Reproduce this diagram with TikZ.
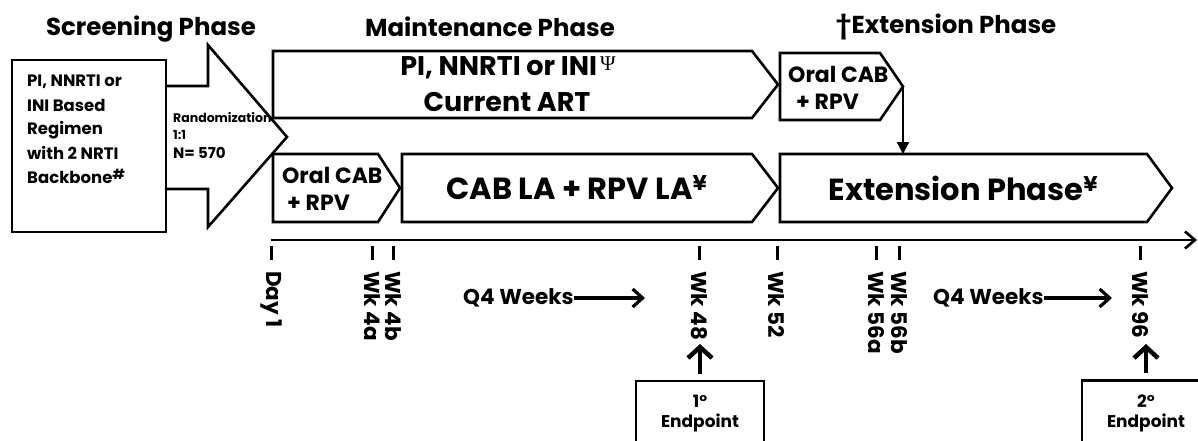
\documentclass[tikz,border=0pt]{standalone}
\usepackage{fontspec}
\setmainfont{Poppins}
\newfontfamily\psifont{Liberation Serif}
\usetikzlibrary{arrows.meta,calc}
\newcommand{\pentbox}[2]{\draw[boxline] (#1.north west) -- (#1.north east) -- ([xshift=#2pt]#1.east) -- (#1.south east) -- (#1.south west) -- cycle;}
\begin{document}
\begin{tikzpicture}[x=1pt,y=-1pt,
  boxline/.style={line width=2.6pt, line join=miter},
  rbox/.style={inner sep=0pt, outer sep=0pt, minimum height=67pt, anchor=north west, align=center},
  ttl/.style={font=\bfseries\fontsize{24.5}{28}\selectfont, inner sep=0pt},
  big/.style={font=\bfseries\fontsize{30.5}{36}\selectfont},
  mid/.style={font=\bfseries\fontsize{27}{30}\selectfont, inner sep=0pt, anchor=base},
  oral/.style={font=\bfseries\fontsize{22}{24}\selectfont, inner sep=0pt, anchor=base west},
  scr/.style={font=\bfseries\fontsize{16.5}{20}\selectfont, inner sep=0pt, anchor=base west},
  tickmark/.style={line width=3pt},
  ticklab/.style={rotate=-90, anchor=west, inner sep=0pt, font=\bfseries\fontsize{21.5}{24}\selectfont},
  q4/.style={font=\bfseries\fontsize{21.5}{24}\selectfont, inner sep=0pt, anchor=west},
  barb/.style={line width=3.2pt, -{Straight Barb[length=10pt,width=18pt]}},
  uparrow/.style={line width=4.5pt, -{Straight Barb[length=11pt,width=24pt]}, shorten <=6pt},
  endbox/.style={draw, line width=2.2pt, minimum width=128pt, minimum height=65pt, align=center, font=\bfseries\fontsize{17}{20}\selectfont, inner sep=0pt},
]
\useasboundingbox (0,0) rectangle (1198,441);

% titles
\node[ttl] (tscr) at (151,29) {Screening Phase};
\node[ttl] (tmain) at (490,27) {Maintenance Phase};
\node[ttl] (text) at (946,27) {†Extension Phase};

% screening box
\node[draw, boxline, minimum width=154pt, minimum height=172pt, anchor=north west, inner sep=0pt, outer sep=0pt] (screen) at (12,60) {};
\node[scr] (s1) at (27,87) {PI, NNRTI or};
\node[scr] (s2) at (27,111) {INI Based};
\node[scr] (s3) at (27,135) {Regimen};
\node[scr] (s4) at (27,159) {with 2 NRTI};
\node[scr] (s5) at (27,183) {Backbone\raisebox{4pt}{\fontsize{14}{14}\selectfont\#}};

% randomization arrow
\draw[boxline] (166,86) -- (208,86) -- (208,45) -- (287,137) -- (208,227) -- (208,189) -- (166,189);
\node[anchor=west, inner sep=0pt, font=\bfseries\fontsize{12.5}{14}\selectfont] (rand) at (173,118) {Randomization};
\node[anchor=west, inner sep=0pt, font=\bfseries\fontsize{12.5}{14}\selectfont] (ratio) at (173,135) {1:1};
\node[anchor=west, inner sep=0pt, font=\bfseries\fontsize{15}{16}\selectfont] (nn) at (173,153) {N= 570};

% top row
\node[rbox, minimum width=479pt] (cur) at (273,51) {};
\pentbox{cur}{26}
\node[mid] (curl1) at (508,76) {PI, NNRTI or INI\hspace{3pt}\raisebox{5pt}{\psifont\mdseries\fontsize{21}{21}\selectfont Ψ}};
\node[mid] (curl2) at (507,111) {Current ART};
\node[rbox, minimum width=100pt] (octop) at (780,53) {};
\pentbox{octop}{23}
\node[oral] (octop1) at (788,83) {Oral CAB};
\node[oral] (octop2) at (796,110) {+ RPV};

% bottom row
\node[rbox, minimum width=105pt, minimum height=68pt] (oclow) at (273,154) {};
\pentbox{oclow}{22}
\node[oral] (oclow1) at (282,183) {Oral CAB};
\node[oral] (oclow2) at (287,210) {+ RPV};
\node[rbox, big, minimum width=350pt, minimum height=68pt] (cabla) at (402,154) {CAB LA + RPV LA\textsuperscript{¥}};
\pentbox{cabla}{26}
\node[rbox, big, minimum width=367pt, minimum height=68pt] (ext) at (780,154) {Extension Phase\textsuperscript{¥}};
\pentbox{ext}{25}

% connector oral -> extension
\coordinate (octip) at ([xshift=23pt]octop.east);
\draw[line width=2.2pt, -{Triangle[length=12pt,width=12pt]}] (octip) -- (octip |- ext.north);

% timeline
\coordinate (t0) at (271,240);
\coordinate (tend) at (1197,240);
\draw[boxline, -{Straight Barb[length=10pt,width=17pt]}] (t0) -- (tend);

\foreach \x/\lab/\n in {271/Day 1/d1, 372/Wk 4a/w4a, 393/Wk 4b/w4b, 699/Wk 48/w48, 777/Wk 52/w52, 876/Wk 56a/w56a, 899/Wk 56b/w56b, 1140/Wk 96/w96}{
  \draw[tickmark] (\x,246) -- (\x,260);
  \node[ticklab] (\n) at (\x,271) {\lab};
}

% Q4 weeks
\node[q4] (q4a) at (463,298) {Q4 Weeks};
\coordinate (q4aend) at (645,298);
\draw[barb] (q4a.east) -- (q4aend);
\node[q4] (q4b) at (933,298) {Q4 Weeks};
\coordinate (q4bend) at (1112,298);
\draw[barb] (q4b.east) -- (q4bend);

% endpoints
\node[endbox] (ep1) at (700,413.5) {1°\\Endpoint};
\node[endbox] (ep2) at (1146,413) {2°\\Endpoint};
\coordinate (ep1tip) at (700,344);
\coordinate (ep2tip) at (1146,344);
\draw[uparrow] (ep1.north) -- (ep1tip);
\draw[uparrow] (ep2.north) -- (ep2tip);
\end{tikzpicture}
\end{document}
